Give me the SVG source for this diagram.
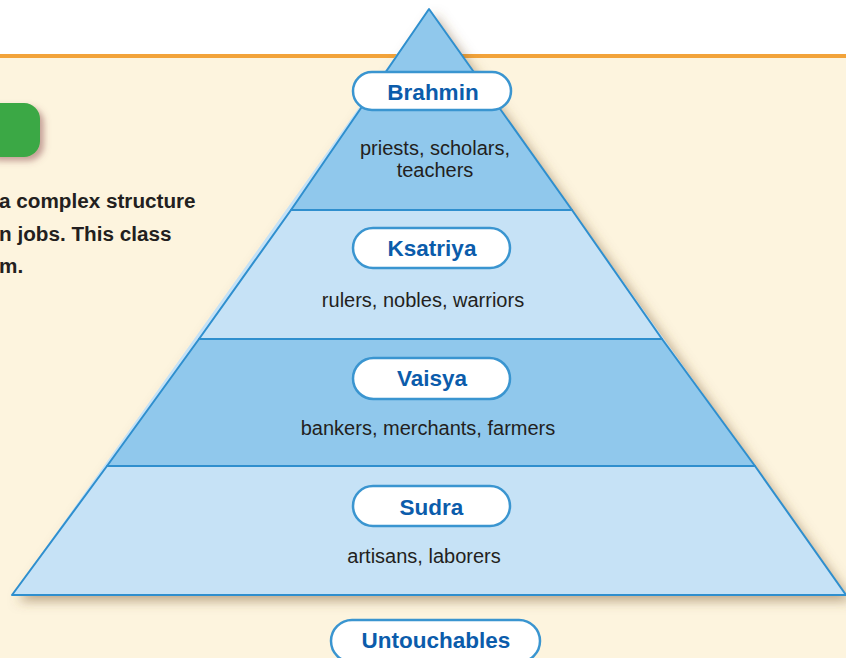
<svg xmlns="http://www.w3.org/2000/svg" width="846" height="658" viewBox="0 0 846 658">
<defs>
<filter id="shadow" x="-10%" y="-10%" width="130%" height="130%">
<feDropShadow dx="6" dy="6" stdDeviation="6" flood-color="#7a5a30" flood-opacity="0.5"/>
</filter>
<filter id="gshadow" x="-30%" y="-30%" width="170%" height="170%">
<feDropShadow dx="4" dy="4" stdDeviation="3" flood-color="#8a4a50" flood-opacity="0.5"/>
</filter>
<style>
.band{stroke:#2f8fce;stroke-width:2;stroke-linejoin:round}
.dark{fill:#90c8ec}
.light{fill:#c6e2f6}
.pill{fill:#ffffff;stroke:#3a95d0;stroke-width:2.5}
.label{font-family:"Liberation Sans",Arial,sans-serif;font-weight:bold;font-size:22.5px;fill:#0b5cab;text-anchor:middle}
.desc{font-family:"Liberation Sans",Arial,sans-serif;font-size:20px;fill:#231f20;text-anchor:middle}
.intro{font-family:"Liberation Sans",Arial,sans-serif;font-weight:bold;font-size:20.7px;fill:#231f20}
</style>
</defs>
<rect x="0" y="0" width="846" height="658" fill="#fdf4de"/>
<rect x="0" y="0" width="846" height="55" fill="#ffffff"/>
<rect x="0" y="54" width="846" height="4" fill="#f2a33a"/>
<rect x="-20" y="103" width="60" height="54" rx="16" fill="#3aa845" filter="url(#gshadow)"/>
<text class="intro" x="-1" y="208">a complex structure</text>
<text class="intro" x="-1" y="241">n jobs. This class</text>
<text class="intro" x="-1" y="273">m.</text>
<g id="pyramid" filter="url(#shadow)">
<polygon points="429,9 846,595 12,595" fill="#c6e2f6"/>
</g>
<g id="sudra">
<polygon class="band light" points="107,466 755,466 846,595 12,595"/>
<rect class="pill" x="353" y="486" width="157" height="40" rx="20"/>
<text class="label" x="431.5" y="515">Sudra</text>
<text class="desc" x="424" y="563">artisans, laborers</text>
</g>
<g id="vaisya">
<polygon class="band dark" points="199,339 662,339 755,466 107,466"/>
<rect class="pill" x="353" y="358" width="157" height="41" rx="20.5"/>
<text class="label" x="432" y="386">Vaisya</text>
<text class="desc" x="428" y="435">bankers, merchants, farmers</text>
</g>
<g id="ksatriya">
<polygon class="band light" points="291,210 572,210 662,339 199,339"/>
<rect class="pill" x="353" y="228" width="157" height="40" rx="20"/>
<text class="label" x="432" y="256">Ksatriya</text>
<text class="desc" x="423" y="307">rulers, nobles, warriors</text>
</g>
<g id="brahmin">
<polygon class="band dark" points="429,9 572,210 291,210"/>
<rect class="pill" x="353" y="72" width="158" height="38" rx="19"/>
<text class="label" x="433" y="100">Brahmin</text>
<text class="desc" x="435" y="155">priests, scholars,</text>
<text class="desc" x="435" y="177">teachers</text>
</g>
<g id="untouchables">
<rect class="pill" x="331" y="620" width="209" height="42" rx="21"/>
<text class="label" x="436" y="648">Untouchables</text>
</g>
<g id="connectors"/>
</svg>
